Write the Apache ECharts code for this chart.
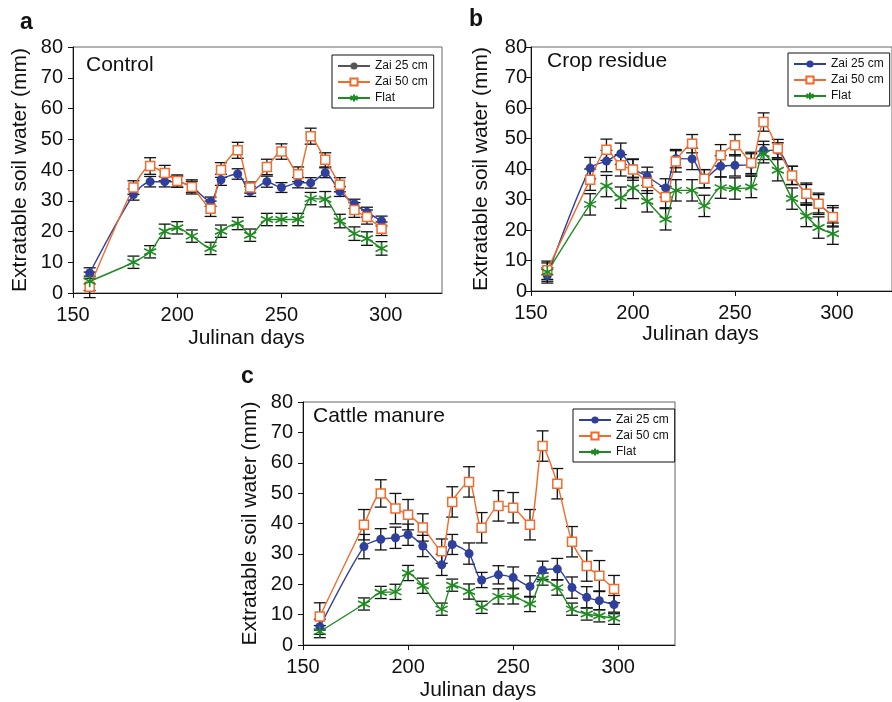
<!DOCTYPE html>
<html>
<head>
<meta charset="utf-8">
<script src="https://cdn.jsdelivr.net/npm/echarts@6/dist/echarts.min.js"></script>
<style>
    html, body { margin: 0; padding: 0; background: #fff; }
    #chart { width: 892px; height: 702px; }
</style>
</head>
<body>
<div id="chart"></div>
<script>
// Julian days of measurement (same for all three panels)
const days = [158, 179, 187, 194, 200, 207, 216, 221, 229, 235, 243, 250, 258, 264, 271, 278, 285, 291, 298];

// a - Control
const ctrlZai25 = [6.5, 32, 36.2, 36.2, 36.2, 34.5, 29.7, 36.8, 38.7, 33, 36.2, 34.3, 35.9, 35.8, 39.1, 33, 29, 26.3, 23.4];
const ctrlZai50 = [2, 34.3, 41.3, 39, 36.4, 34.5, 27.4, 40, 46.4, 34.3, 41, 46, 38.6, 51, 43.3, 35.2, 27, 24.7, 20.9];
const ctrlFlat = [3.8, 10, 13.4, 20.1, 21.2, 18.5, 14.5, 20.1, 22.6, 18.8, 23.9, 23.9, 23.9, 30.7, 30.5, 23.4, 19.3, 17.7, 14.5];
const ctrlZai25Err = [1.7, 1.8, 1.7, 1.7, 1.8, 1.8, 1.5, 1.8, 1.7, 1.6, 1.8, 1.6, 1.7, 1.7, 1.6, 1.6, 1.5, 1.6, 1.6];
const ctrlZai50Err = [3.5, 2.2, 2.7, 2.5, 2.0, 2.3, 2.5, 2.4, 2.6, 1.8, 2.5, 2.5, 2.4, 2.6, 2.3, 2.3, 2.4, 2.3, 2.2];
const ctrlFlatErr = [3.0, 2.0, 2.0, 2.3, 2.0, 2.0, 2.0, 2.0, 2.0, 2.0, 2.0, 2.0, 2.0, 2.0, 2.5, 2.2, 2.2, 2.2, 2.2];

// b - Crop residue
const cropZai25 = [5.1, 40.3, 42.6, 45, 40.1, 37.6, 33.8, 43.4, 43.3, 36.8, 40.9, 41.2, 41.5, 46.1, 46.1, 37.9, 31.9, 28.6, 24.5];
const cropZai50 = [6.8, 36.5, 46.3, 41.2, 39.8, 35.5, 30.8, 42.5, 48.3, 36.8, 44.5, 47.8, 42, 55.4, 46.7, 37.9, 31.9, 28.6, 24.3];
const cropFlat = [6.2, 28.4, 34.4, 30.6, 33.8, 29.4, 23.5, 33, 33, 27.9, 33.9, 33.6, 34.1, 45, 39.6, 30.3, 24.6, 20.8, 18.8];
const cropZai25Err = [2.5, 3.5, 3.5, 3.5, 3, 3, 3, 3, 3.5, 3, 3.5, 3.5, 3.5, 3, 2.5, 3, 3.5, 3.5, 3.5];
const cropZai50Err = [3, 3.5, 3.5, 3.5, 3.5, 3.5, 3.5, 3.5, 3, 3, 3.5, 3.5, 3.5, 3, 3, 3, 3, 3, 3];
const cropFlatErr = [3, 3.5, 3.5, 3.5, 3.5, 3.5, 3.5, 3.5, 3.5, 3.5, 3.5, 3.5, 3.5, 3, 3.5, 3.5, 3.5, 3.5, 3.5];

// c - Cattle manure
const manureZai25 = [6, 32.4, 34.8, 35.3, 36.3, 32.6, 26.4, 33.1, 30.1, 21.4, 23.1, 22.2, 19.3, 24.6, 25, 18.9, 15.7, 14.6, 13.3];
const manureZai50 = [9.4, 39.6, 49.9, 44.9, 42.9, 38.7, 30.9, 47.1, 53.7, 38.6, 45.8, 45.2, 39.6, 65.5, 53.1, 34, 26, 22.8, 18.4];
const manureFlat = [4.4, 13.5, 17.3, 17.5, 23.7, 19.5, 11.8, 19.7, 17.6, 12.4, 16, 16, 13.5, 21.7, 18.9, 11.8, 10.2, 9.6, 8.8];
const manureZai25Err = [2.5, 4, 3.5, 3.5, 3.5, 3.5, 3.5, 3.3, 3.5, 2.5, 3, 3.5, 3.5, 3, 3.5, 3.5, 3.5, 3, 3];
const manureZai50Err = [4.5, 5, 4.5, 5, 5, 4.5, 4, 5, 5, 5, 5, 5, 5, 5, 5, 5, 5, 5, 4.5];
const manureFlatErr = [2, 2, 2, 2.5, 2.5, 2.5, 2, 2, 2.5, 2, 2.5, 2.5, 2.5, 2, 2.5, 2, 2, 2, 2];

const xTicks = [150, 200, 250, 300];
const legendNames = ['Zai 25 cm', 'Zai 50 cm', 'Flat'];

const FONT = 'Liberation Sans';
const BLUE = '#2f3f9e';
const ORANGE = '#f26a2c';
const GREEN = '#1f8a22';
const STAR = 'path://M0,-10L0,10M-8.66,-5L8.66,5M-8.66,5L8.66,-5';

const chart = echarts.init(document.getElementById('chart'));

function pairs(vals, errs) {
    return days.map((d, i) => errs ? [d, vals[i], errs[i]] : [d, vals[i]]);
}

function errRender(params, api) {
    const x = api.value(0), y = api.value(1), e = api.value(2);
    const hi = api.coord([x, y + e]);
    const lo = api.coord([x, y - e]);
    const w = 6;
    const style = {stroke: '#111', lineWidth: 1.3};
    return {
        type: 'group',
        children: [
            {type: 'line', shape: {x1: hi[0], y1: hi[1], x2: lo[0], y2: lo[1]}, style: style},
            {type: 'line', shape: {x1: hi[0] - w, y1: hi[1], x2: hi[0] + w, y2: hi[1]}, style: style},
            {type: 'line', shape: {x1: lo[0] - w, y1: lo[1], x2: lo[0] + w, y2: lo[1]}, style: style}
        ]
    };
}

function lineSeries(name, idx, vals, kind, color) {
    let s = {
        name: name,
        type: 'line',
        xAxisIndex: idx,
        yAxisIndex: idx,
        data: pairs(vals),
        smooth: 0.25,
        z: 3,
        lineStyle: {color: color, width: 1.4},
        itemStyle: {color: color}
    };
    if (kind === 'dot') {
        s.symbol = 'circle';
        s.symbolSize = 9;
    } else if (kind === 'square') {
        s.symbol = 'rect';
        s.symbolSize = 9;
        s.itemStyle = {color: '#fff', borderColor: color, borderWidth: 1.5};
    } else {
        s.symbol = STAR;
        s.symbolSize = 12;
        s.itemStyle = {color: color, borderColor: color, borderWidth: 1.6};
    }
    return s;
}

function errSeries(idx, vals, errs) {
    return {
        type: 'custom',
        xAxisIndex: idx,
        yAxisIndex: idx,
        z: 2,
        silent: true,
        renderItem: errRender,
        encode: {x: 0, y: 1},
        data: pairs(vals, errs)
    };
}

const grids = [
    {left: 73, top: 47, width: 369, height: 246},
    {left: 531, top: 47, width: 369, height: 244},
    {left: 303, top: 402, width: 372, height: 244}
];

const yNameGap = [42, 39, 42];
const yLabelMargin = [10, 4, 10];
const xNameGap = [35, 30, 35];

const panels = [
    {key: 'a', title: 'Control', tx: 86, ty: 55, legend: {left: 332, top: 55},
        data: [ctrlZai25, ctrlZai50, ctrlFlat], errs: [ctrlZai25Err, ctrlZai50Err, ctrlFlatErr]},
    {key: 'b', title: 'Crop residue', tx: 547, ty: 51, legend: {left: 788, top: 53},
        data: [cropZai25, cropZai50, cropFlat], errs: [cropZai25Err, cropZai50Err, cropFlatErr]},
    {key: 'c', title: 'Cattle manure', tx: 313, ty: 406, legend: {left: 573, top: 409},
        data: [manureZai25, manureZai50, manureFlat], errs: [manureZai25Err, manureZai50Err, manureFlatErr]}
];

let series = [];
let legends = [];
let titles = [];

panels.forEach((p, i) => {
    const kinds = ['dot', 'square', 'star'];
    const colors = [BLUE, ORANGE, GREEN];
    for (let k = 0; k < 3; k++) {
        series.push(errSeries(i, p.data[k], p.errs[k]));
    }
    for (let k = 0; k < 3; k++) {
        let name = p.key + '|' + legendNames[k];
        // Control legend shows Zai 25 cm in grey
        if (i === 0 && k === 0) {
            series.push(lineSeries(p.key + '|data', i, p.data[k], kinds[k], colors[k]));
            let dummy = lineSeries(name, i, [], kinds[k], '#555');
            dummy.data = [];
            series.push(dummy);
        } else {
            series.push(lineSeries(name, i, p.data[k], kinds[k], colors[k]));
        }
    }
    legends.push({
        left: p.legend.left,
        top: p.legend.top,
        orient: 'vertical',
        data: legendNames.map(n => p.key + '|' + n),
        formatter: n => n.split('|')[1],
        selectedMode: false,
        itemWidth: 32,
        itemHeight: 9,
        itemGap: 4,
        padding: [5, 6, 4, 5],
        borderColor: '#111',
        borderWidth: 1,
        backgroundColor: '#fff',
        textStyle: {fontFamily: FONT, fontSize: 12, color: '#111'}
    });
    titles.push({
        text: p.title,
        left: p.tx,
        top: p.ty,
        padding: 0,
        textStyle: {fontFamily: FONT, fontSize: 21, fontWeight: 'normal', color: '#111'}
    });
});

const xAxes = grids.map((g, i) => ({
    gridIndex: i,
    type: 'value',
    min: 150,
    max: 327,
    interval: 50,
    name: 'Julinan days',
    nameLocation: 'middle',
    nameGap: xNameGap[i],
    nameTextStyle: {fontFamily: FONT, fontSize: 21, color: '#111', padding: [0, 22, 0, 0]},
    axisLine: {show: true, lineStyle: {color: '#111', width: 1}},
    axisTick: {show: true, inside: false, length: 5, customValues: xTicks, lineStyle: {color: '#111'}},
    axisLabel: {customValues: xTicks, margin: 12, fontFamily: FONT, fontSize: 20, color: '#111'},
    splitLine: {show: false}
}));

const yAxes = grids.map((g, i) => ({
    gridIndex: i,
    type: 'value',
    min: 0,
    max: 80,
    interval: 10,
    name: 'Extratable soil water (mm)',
    nameLocation: 'middle',
    nameGap: yNameGap[i],
    nameTextStyle: {fontFamily: FONT, fontSize: 21, color: '#111'},
    axisLine: {show: true, lineStyle: {color: '#111', width: 1}},
    axisTick: {show: true, inside: false, length: 5, lineStyle: {color: '#111'}},
    axisLabel: {margin: yLabelMargin[i], fontFamily: FONT, fontSize: 20, color: '#111'},
    splitLine: {show: false}
}));

const option = {
    backgroundColor: '#fff',
    animation: false,
    title: titles,
    legend: legends,
    grid: grids.map(g => Object.assign({show: true, borderColor: '#666', borderWidth: 1, containLabel: false}, g)),
    xAxis: xAxes,
    yAxis: yAxes,
    graphic: [
        {type: 'text', left: 20, top: 11, style: {text: 'a', fontFamily: FONT, fontSize: 23, fontWeight: 'bold', fill: '#111'}},
        {type: 'text', left: 469, top: 8, style: {text: 'b', fontFamily: FONT, fontSize: 23, fontWeight: 'bold', fill: '#111'}},
        {type: 'text', left: 241, top: 365, style: {text: 'c', fontFamily: FONT, fontSize: 23, fontWeight: 'bold', fill: '#111'}}
    ],
    series: series
};

chart.setOption(option);
</script>
</body>
</html>
